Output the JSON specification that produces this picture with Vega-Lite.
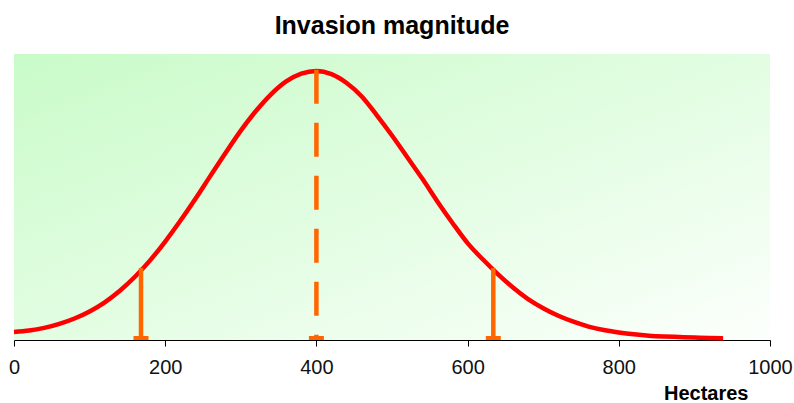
{
  "$schema": "https://vega.github.io/schema/vega-lite/v6.json",
  "width": 756,
  "height": 286,
  "autosize": {"type": "none"},
  "padding": {"left": 14, "top": 54, "right": 24, "bottom": 63},
  "background": "white",
  "title": {
    "text": "Invasion magnitude",
    "font": "Liberation Sans",
    "fontSize": 25,
    "fontWeight": "bold",
    "color": "black",
    "anchor": "middle",
    "offset": 15
  },
  "config": {
    "view": {
      "stroke": null,
      "fill": {
        "gradient": "linear",
        "x1": 0, "y1": 0, "x2": 1, "y2": 1,
        "stops": [
          {"offset": 0, "color": "#c9fbc9"},
          {"offset": 0.5, "color": "#e2fde2"},
          {"offset": 1, "color": "#fcfffc"}
        ]
      }
    },
    "font": "Liberation Sans"
  },
  "datasets": {
    "curve": [
      {"x": 0, "y": 0.030}, {"x": 20, "y": 0.035}, {"x": 40, "y": 0.045}, {"x": 60, "y": 0.060},
      {"x": 80, "y": 0.080}, {"x": 100, "y": 0.106}, {"x": 120, "y": 0.140}, {"x": 140, "y": 0.183},
      {"x": 160, "y": 0.235}, {"x": 180, "y": 0.296}, {"x": 200, "y": 0.366}, {"x": 220, "y": 0.443},
      {"x": 240, "y": 0.525}, {"x": 260, "y": 0.611}, {"x": 280, "y": 0.696}, {"x": 300, "y": 0.778},
      {"x": 320, "y": 0.851}, {"x": 340, "y": 0.913}, {"x": 360, "y": 0.961}, {"x": 380, "y": 0.990},
      {"x": 400, "y": 1.000}, {"x": 420, "y": 0.988}, {"x": 440, "y": 0.955}, {"x": 460, "y": 0.905},
      {"x": 480, "y": 0.835}, {"x": 500, "y": 0.760}, {"x": 520, "y": 0.680}, {"x": 540, "y": 0.600},
      {"x": 560, "y": 0.515}, {"x": 580, "y": 0.435}, {"x": 600, "y": 0.360}, {"x": 620, "y": 0.300},
      {"x": 640, "y": 0.245}, {"x": 660, "y": 0.195}, {"x": 680, "y": 0.152}, {"x": 700, "y": 0.118},
      {"x": 720, "y": 0.090}, {"x": 740, "y": 0.068}, {"x": 760, "y": 0.050}, {"x": 780, "y": 0.037},
      {"x": 800, "y": 0.028}, {"x": 820, "y": 0.021}, {"x": 840, "y": 0.016}, {"x": 860, "y": 0.013},
      {"x": 880, "y": 0.011}, {"x": 900, "y": 0.009}, {"x": 920, "y": 0.007}, {"x": 938, "y": 0.006}
    ],
    "bounds": [
      {"x": 168, "top": 0.268},
      {"x": 634, "top": 0.268}
    ],
    "mean": [
      {"x": 400, "top": 1.004}
    ],
    "caps": [
      {"x": 168, "base": 0}, {"x": 400, "base": 0}, {"x": 634, "base": 0}
    ]
  },
  "layer": [
    {
      "data": {"name": "curve"},
      "mark": {"type": "line", "color": "#ff0000", "strokeWidth": 4.5, "interpolate": "monotone"},
      "encoding": {
        "x": {
          "field": "x", "type": "quantitative",
          "scale": {"domain": [0, 1000], "nice": false, "zero": false},
          "axis": {
            "values": [0, 200, 400, 600, 800, 1000],
            "format": "d",
            "grid": false,
            "domainColor": "black",
            "domainWidth": 1,
            "tickColor": "black",
            "tickSize": 6,
            "tickWidth": 1,
            "labelFont": "Liberation Sans",
            "labelFontSize": 20,
            "labelColor": "#111111",
            "labelPadding": 11,
            "labelFlush": false,
            "labelOverlap": false,
            "title": "Hectares",
            "titleFont": "Liberation Sans",
            "titleFontSize": 20,
            "titleFontWeight": "bold",
            "titleColor": "black",
            "titleAnchor": "end",
            "titleAlign": "right",
            "titleBaseline": "alphabetic",
            "titleX": 734,
            "titleY": 59
          }
        },
        "y": {
          "field": "y", "type": "quantitative",
          "scale": {"domain": [0, 1.063], "nice": false},
          "axis": null
        }
      }
    },
    {
      "data": {"name": "bounds"},
      "mark": {"type": "rule", "color": "#ff6600", "strokeWidth": 4.5},
      "encoding": {
        "x": {"field": "x", "type": "quantitative"},
        "y": {"field": "top", "type": "quantitative"},
        "y2": {"datum": 0}
      }
    },
    {
      "data": {"name": "mean"},
      "mark": {"type": "rule", "color": "#ff6600", "strokeWidth": 4.5, "strokeDash": [34, 19]},
      "encoding": {
        "x": {"field": "x", "type": "quantitative"},
        "y": {"field": "top", "type": "quantitative"},
        "y2": {"datum": 0}
      }
    },
    {
      "data": {"name": "caps"},
      "mark": {"type": "tick", "orient": "horizontal", "color": "#ff6600", "size": 15, "thickness": 4, "yOffset": -2, "opacity": 1},
      "encoding": {
        "x": {"field": "x", "type": "quantitative"},
        "y": {"field": "base", "type": "quantitative"}
      }
    }
  ]
}
